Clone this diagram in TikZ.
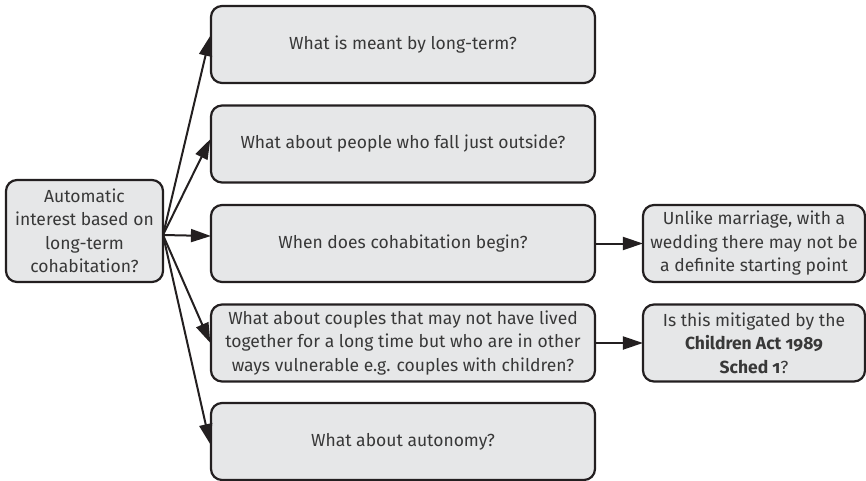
\documentclass[tikz,border=0pt]{standalone}
\usepackage{fontspec}
\setmainfont{Fira Sans}[Numbers=OldStyle]
\usetikzlibrary{arrows.meta}
\definecolor{boxfill}{HTML}{E6E7E8}
\definecolor{boxline}{HTML}{231F20}
\definecolor{boxtext}{HTML}{383838}
\tikzset{
  qbox/.style={draw=boxline, fill=boxfill, line width=2.2pt, rounded corners=11pt,
    text=boxtext, align=center, inner sep=0pt,
    font=\fontsize{17.5}{23.5}\selectfont},
  midbox/.style={qbox, minimum width=384pt, minimum height=77pt},
  sidebox/.style={qbox, minimum width=222pt, minimum height=77pt},
  link/.style={draw=boxline, line width=2pt,
    -{Triangle[length=20pt,width=13pt]}, shorten >=-1pt}
}
\begin{document}
\begin{tikzpicture}[x=1pt,y=-1pt]
  \useasboundingbox (0,0) rectangle (866,481);

  % root question
  \node[qbox, minimum width=157pt, minimum height=102pt] (root) at (84.5,231)
    {Automatic\\interest based on\\long-term\\cohabitation?};
  \coordinate (fan) at (163,235);

  % follow-up questions
  \node[midbox] (q1) at (403,44.5)  {What is meant by long-term?};
  \node[midbox] (q2) at (403,144)   {What about people who fall just outside?};
  \node[midbox] (q3) at (403,243.5) {When does cohabitation begin?};
  \node[midbox] (q4) at (403,343)   {What about couples that may not have lived\\together for a long time but who are in other\\ways vulnerable e.g. couples with children?};
  \node[midbox] (q5) at (403,441.5) {What about autonomy?};

  % comments on individual questions
  \node[sidebox] (c3) at (754,243.5) {Unlike marriage, with a\\wedding there may not be\\a definite starting point};
  \node[sidebox] (c4) at (754,343)   {Is this mitigated by the\\\textbf{Children Act 1989}\\\textbf{Sched 1}?};

  % fan of connectors from the root
  \draw[link] (fan) -- (q1.west |- 0,37);
  \draw[link] (fan) -- (q2.west |- 0,140);
  \draw[link] (fan) -- (q3.west |- 0,236);
  \draw[link] (fan) -- (q4.west |- 0,342);
  \draw[link] (fan) -- (q5.west |- 0,443);

  \draw[link] (q3.east) -- (c3.west);
  \draw[link] (q4.east) -- (c4.west);
\end{tikzpicture}
\end{document}
